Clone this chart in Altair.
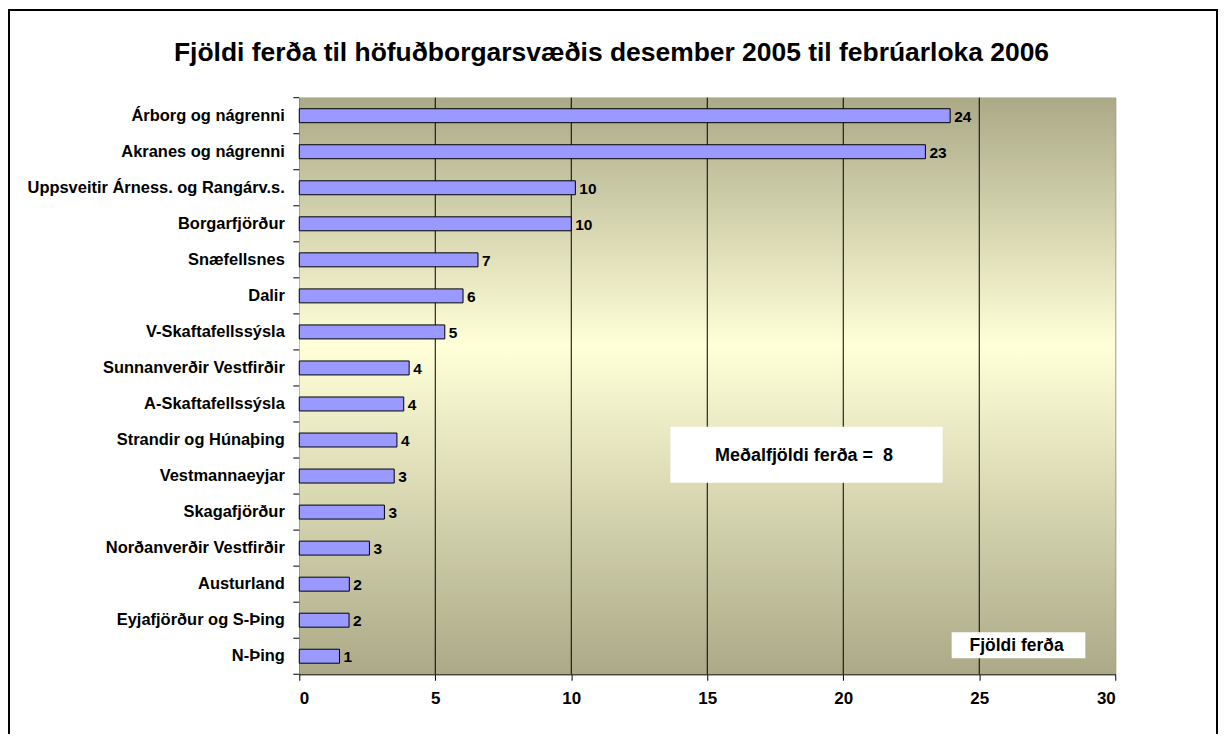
import altair as alt
import pandas as pd

regions = [
    "Árborg og nágrenni",
    "Akranes og nágrenni",
    "Uppsveitir Árness. og Rangárv.s.",
    "Borgarfjörður",
    "Snæfellsnes",
    "Dalir",
    "V-Skaftafellssýsla",
    "Sunnanverðir Vestfirðir",
    "A-Skaftafellssýsla",
    "Strandir og Húnaþing",
    "Vestmannaeyjar",
    "Skagafjörður",
    "Norðanverðir Vestfirðir",
    "Austurland",
    "Eyjafjörður og S-Þing",
    "N-Þing",
]
trips = [23.93, 23.02, 10.15, 10.0, 6.57, 6.02, 5.35, 4.04, 3.84, 3.59, 3.49, 3.13, 2.58, 1.84, 1.83, 1.48]
grid_values = [5, 10, 15, 20, 25]
x_ticks = [0, 5, 10, 15, 20, 25, 30]

title_text = "Fjöldi ferða til höfuðborgarsvæðis desember 2005 til febrúarloka 2006"
mean_text = "Meðalfjöldi ferða = \u00a08"
legend_text = "Fjöldi ferða"

FONT = "Liberation Sans"
W, H = 818, 578

df = pd.DataFrame({"region": regions, "trips": trips})
df["label"] = [f"{round(v):d}" for v in trips]
one = pd.DataFrame({"a": [0]})
grid_df = pd.DataFrame({"g": grid_values})

xscale = alt.Scale(domain=[0, 30], nice=False, zero=True)
yscale = alt.Scale(paddingInner=0, paddingOuter=0)

xenc = alt.X(
    "trips:Q",
    scale=xscale,
    axis=alt.Axis(
        values=x_ticks, grid=False, title=None, format="d",
        labelFont=FONT, labelFontSize=17, labelFontWeight="bold", labelColor="black",
        domainColor="black", tickColor="black", tickSize=6, labelPadding=10,
    ),
)
yenc = alt.Y(
    "region:N",
    sort=regions,
    scale=yscale,
    axis=alt.Axis(
        title=None, ticks=False, tickSize=0, labelPadding=15,
        labelFont=FONT, labelFontSize=16.5, labelFontWeight="bold", labelColor="black",
        domainColor="black", labelLimit=400,
    ),
)

gradient = alt.LinearGradient(
    gradient="linear",
    stops=[
        alt.GradientStop(color="#aba987", offset=0),
        alt.GradientStop(color="#ffffd8", offset=0.43),
        alt.GradientStop(color="#aba987", offset=1),
    ],
    x1=0.5, x2=0.5, y1=0, y2=1,
)

bg = alt.Chart(one).mark_rect(color=gradient).encode(
    x=alt.value(0), x2=alt.value(W), y=alt.value(0), y2=alt.value(H)
)

grid = alt.Chart(grid_df).mark_rule(color="black", strokeWidth=1).encode(
    x=alt.X("g:Q", scale=xscale)
)

bars = alt.Chart(df).mark_bar(size=14, color="#9999ff", stroke="black", strokeWidth=1).encode(
    x=xenc, y=yenc
)

labels = alt.Chart(df).mark_text(
    align="left", baseline="middle", dx=4, dy=1, font=FONT, fontSize=15.5, fontWeight="bold", color="black"
).encode(
    x=alt.X("trips:Q", scale=xscale), y=alt.Y("region:N", sort=regions, scale=yscale), text="label:N"
)

yticks = alt.Chart(df).mark_rule(color="black").encode(
    y=alt.Y("region:N", sort=regions, scale=yscale, bandPosition=0),
    x=alt.value(-6), x2=alt.value(0),
)
ytick_bottom = alt.Chart(one).mark_rule(color="black").encode(
    y=alt.value(H), x=alt.value(-6), x2=alt.value(0)
)

mean_box = alt.Chart(one).mark_rect(color="white").encode(
    x=alt.value(372), x2=alt.value(645), y=alt.value(330), y2=alt.value(386)
)
mean_lbl = alt.Chart(one).mark_text(
    text=mean_text, font=FONT, fontSize=18, fontWeight="bold", color="black", align="center", baseline="middle"
).encode(x=alt.value(506), y=alt.value(359))

leg_box = alt.Chart(one).mark_rect(color="white").encode(
    x=alt.value(654), x2=alt.value(788), y=alt.value(536), y2=alt.value(562)
)
leg_lbl = alt.Chart(one).mark_text(
    text=legend_text, font=FONT, fontSize=17.5, fontWeight="bold", color="black", align="left", baseline="middle"
).encode(x=alt.value(672), y=alt.value(550))

title = alt.Chart(one).mark_text(
    text=title_text, font=FONT, fontSize=26.5, fontWeight="bold", color="black", align="center", baseline="middle"
).encode(x=alt.value(313), y=alt.value(-45))

frame = alt.Chart(one).mark_rect(fill=None, filled=False, stroke="black", strokeWidth=2).encode(
    x=alt.value(-291), x2=alt.value(920), y=alt.value(-88), y2=alt.value(H + 80)
)

chart = alt.layer(
    bg, grid, bars, labels, yticks, ytick_bottom, mean_box, mean_lbl, leg_box, leg_lbl, title, frame
).properties(
    width=W, height=H,
    autosize=alt.AutoSizeParams(type="none"),
    padding={"left": 292, "top": 89, "right": 103, "bottom": 59},
    background="white",
).configure_view(stroke="#808080", strokeWidth=1)

chart.save("out.html", embed_options={"renderer": "svg", "actions": False})
